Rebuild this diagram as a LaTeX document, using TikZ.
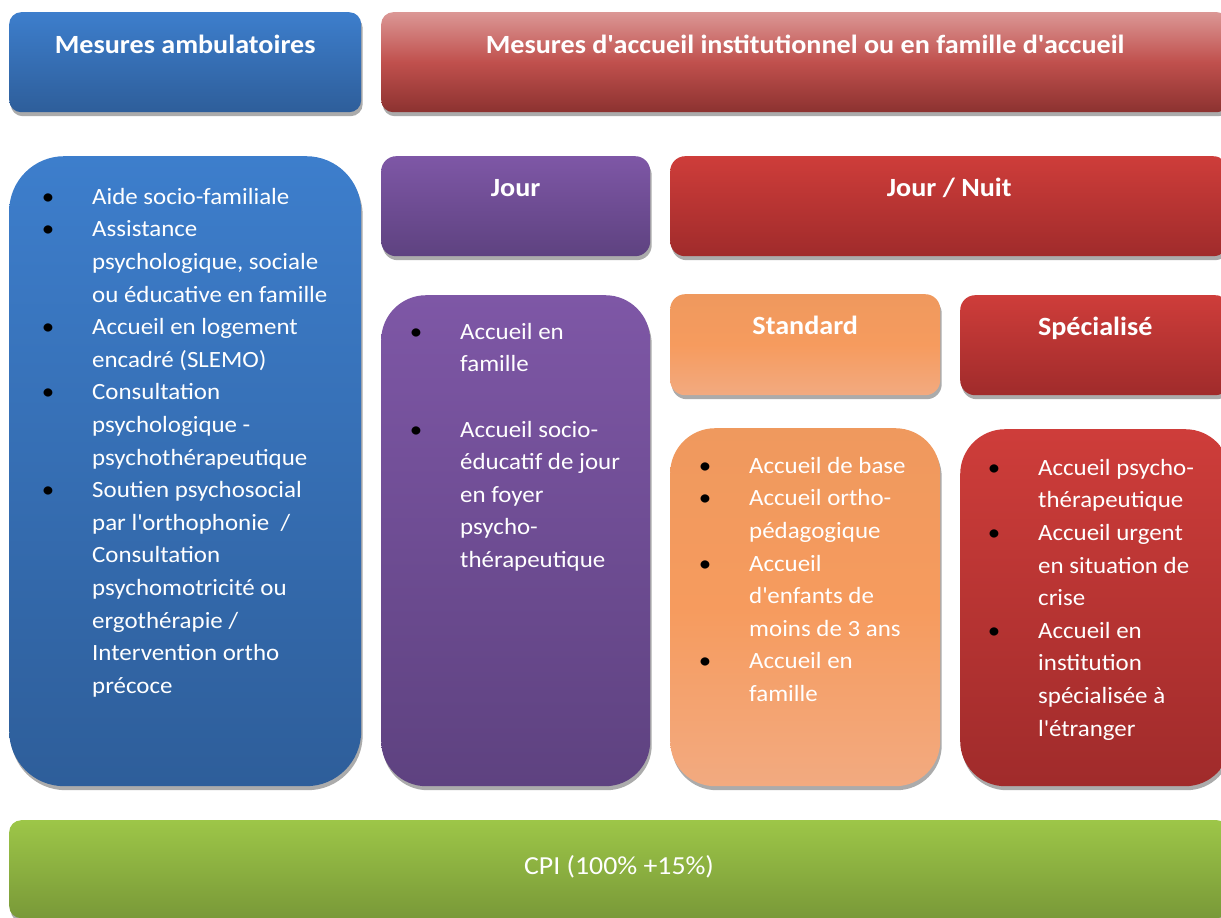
\documentclass[tikz,border=0pt]{standalone}
\usepackage{fontspec}
\setmainfont{Carlito}[FakeStretch=1.07]
\usetikzlibrary{calc,shadows,positioning}

\definecolor{blueT}{RGB}{61,126,204}
\definecolor{blueB}{RGB}{46,94,154}
\definecolor{accT}{RGB}{219,151,149}
\definecolor{accM}{RGB}{192,80,77}
\definecolor{accB}{RGB}{140,50,48}
\definecolor{purT}{RGB}{126,87,166}
\definecolor{purB}{RGB}{94,66,128}
\definecolor{redT}{RGB}{206,61,58}
\definecolor{redB}{RGB}{160,43,43}
\definecolor{orgT}{RGB}{239,153,94}
\definecolor{orgM}{RGB}{246,155,94}
\definecolor{orgB}{RGB}{242,170,128}
\definecolor{grnT}{RGB}{157,198,72}
\definecolor{grnB}{RGB}{121,153,56}

\newcommand{\bul}{\llap{\textcolor{black}{\textbullet}\hspace{38pt}}}
\newcommand{\ap}{\textquotesingle}

\begin{document}
\begin{tikzpicture}[x=1pt, y=-1pt,
  box/.style={anchor=north west, inner sep=0pt, rounded corners=#1,
    drop shadow={opacity=1, fill=black!33, shadow xshift=1.5pt, shadow yshift=-4pt}},
  blue/.style={top color=blueT, bottom color=blueB},
  acc/.style={top color=accT, bottom color=accB, middle color=accM},
  pur/.style={top color=purT, bottom color=purB},
  red/.style={top color=redT, bottom color=redB},
  org/.style={top color=orgT, bottom color=orgB, middle color=orgM},
  grn/.style={top color=grnT, bottom color=grnB},
  ttl/.style={anchor=base, text=white, inner sep=0pt, font=\fontsize{26.3}{30}\selectfont\bfseries},
  lst/.style={anchor=north west, align=left, text=white, inner sep=0pt, font=\fontsize{23.3}{32.6}\selectfont}]

  \path[use as bounding box, clip] (0,0) rectangle (1221,918);

  % headers
  \node[box=12pt, blue, minimum width=352pt, minimum height=100pt] (amb) at (9,12) {};
  \node[box=12pt, acc, minimum width=848pt, minimum height=100pt] (acc) at (381,12) {};
  \node[box=15pt, pur, minimum width=269pt, minimum height=100pt] (jour) at (381,156) {};
  \node[box=15pt, red, minimum width=558pt, minimum height=100pt] (nuit) at (670,156) {};
  \node[box=15pt, org, minimum width=270pt, minimum height=101pt] (std) at (670,294) {};
  \node[box=15pt, red, minimum width=270pt, minimum height=100pt] (spe) at (960,295) {};

  \node[ttl] (ambt) at ([yshift=-41pt]amb.north) {Mesures ambulatoires};
  \node[ttl] (acct) at ([yshift=-41pt]acc.north) {Mesures d\ap accueil institutionnel ou en famille d\ap accueil};
  \node[ttl] (jourt) at ([yshift=-40pt]jour.north) {Jour};
  \node[ttl] (nuitt) at ([yshift=-40pt]nuit.north) {Jour / Nuit};
  \node[ttl] (stdt) at ([yshift=-40pt]std.north) {Standard};
  \node[ttl] (spet) at ([yshift=-40pt]spe.north) {Spécialisé};

  % lists
  \node[box=55pt, blue, minimum width=352pt, minimum height=630pt] (ambl) at (9,156) {};
  \node[box=45pt, pur, minimum width=269pt, minimum height=491pt] (jourl) at (381,295) {};
  \node[box=45pt, org, minimum width=270pt, minimum height=358pt] (stdl) at (670,428) {};
  \node[box=45pt, red, minimum width=270pt, minimum height=357pt] (spel) at (960,429) {};

  \node[lst] (amblt) at ([xshift=83pt, yshift=-32pt]ambl.north west) {%
    \bul Aide socio-familiale\\
    \bul Assistance\\
    psychologique, sociale\\
    ou éducative en famille\\
    \bul Accueil en logement\\
    encadré (SLEMO)\\
    \bul Consultation\\
    psychologique -\\
    psychothérapeutique\\
    \bul Soutien psychosocial\\
    par l\ap orthophonie~ /\\
    Consultation\\
    psychomotricité ou\\
    ergothérapie /\\
    Intervention ortho\\
    précoce};
  \node[lst] (jourlt) at ([xshift=79pt, yshift=-28pt]jourl.north west) {%
    \bul Accueil en\\
    famille\\[32.6pt]
    \bul Accueil socio-\\
    éducatif de jour\\
    en foyer\\
    psycho-\\
    thérapeutique};
  \node[lst] (stdlt) at ([xshift=79pt, yshift=-29pt]stdl.north west) {%
    \bul Accueil de base\\
    \bul Accueil ortho-\\
    pédagogique\\
    \bul Accueil\\
    d\ap enfants de\\
    moins de 3 ans\\
    \bul Accueil en\\
    famille};
  \node[lst] (spelt) at ([xshift=78pt, yshift=-30pt]spel.north west) {%
    \bul Accueil psycho-\\
    thérapeutique\\
    \bul Accueil urgent\\
    en situation de\\
    crise\\
    \bul Accueil en\\
    institution\\
    spécialisée à\\
    l\ap étranger};

  % bottom bar
  \node[box=12pt, grn, minimum width=1220pt, minimum height=98pt] (cpi) at (9,820) {};
  \node[anchor=center, text=white, inner sep=0pt, font=\fontsize{26}{30}\selectfont] (cpit) at (619,867) {CPI (100\% +15\%)};
\end{tikzpicture}
\end{document}
